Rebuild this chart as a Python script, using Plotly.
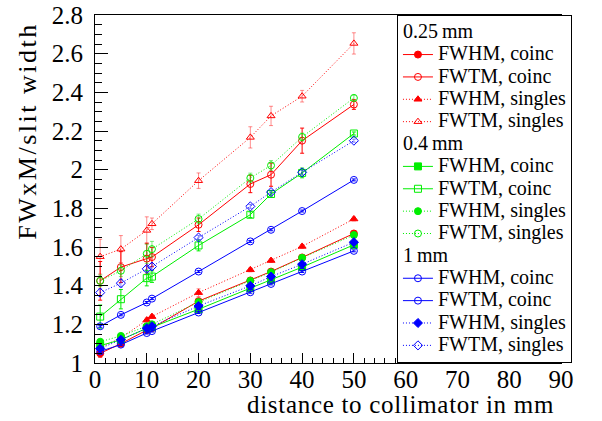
import plotly.graph_objects as go

# ---------------- data ----------------
distance = [1, 5, 10, 11, 20, 30, 34, 40, 50]

# 0.25 mm slit (red)
r_fwhm_coinc = [1.05, 1.10, 1.17, 1.18, 1.32, 1.427, 1.473, 1.546, 1.670]
r_fwhm_coinc_err = [0.02, 0.015, 0.01, 0.01, 0.008, 0.008, 0.008, 0.008, 0.008]
r_fwtm_coinc = [1.425, 1.496, 1.54, 1.548, 1.715, 1.926, 1.974, 2.15, 2.337]
r_fwtm_coinc_err = [0.10, 0.08, 0.08, 0.05, 0.035, 0.045, 0.06, 0.065, 0.025]
r_fwhm_singles = [1.08, 1.13, 1.222, 1.24, 1.364, 1.482, 1.53, 1.603, 1.745]
r_fwhm_singles_err = [0.02, 0.015, 0.01, 0.01, 0.02, 0.01, 0.01, 0.01, 0.01]
r_fwtm_singles = [1.55, 1.589, 1.686, 1.72, 1.943, 2.167, 2.278, 2.38, 2.653]
r_fwtm_singles_err = [0.09, 0.07, 0.07, 0.03, 0.04, 0.055, 0.05, 0.03, 0.055]

# 0.4 mm slit (green)
g_fwhm_coinc = [1.09, 1.12, 1.18, 1.185, 1.278, 1.387, 1.43, 1.496, 1.611]
g_fwhm_coinc_err = [0.01, 0.01, 0.008, 0.008, 0.006, 0.006, 0.006, 0.006, 0.006]
g_fwtm_coinc = [1.24, 1.33, 1.439, 1.447, 1.608, 1.767, 1.874, 1.983, 2.187]
g_fwtm_coinc_err = [0.06, 0.05, 0.04, 0.03, 0.028, 0.015, 0.01, 0.025, 0.008]
g_fwhm_singles = [1.11, 1.14, 1.19, 1.20, 1.315, 1.425, 1.47, 1.544, 1.662]
g_fwhm_singles_err = [0.01, 0.01, 0.008, 0.008, 0.006, 0.006, 0.006, 0.006, 0.006]
g_fwtm_singles = [1.425, 1.477, 1.565, 1.589, 1.745, 1.957, 2.022, 2.169, 2.371]
g_fwtm_singles_err = [0.03, 0.03, 0.05, 0.04, 0.025, 0.025, 0.025, 0.02, 0.015]

# 1 mm slit (blue)
b_fwhm_coinc = [1.06, 1.095, 1.155, 1.165, 1.261, 1.366, 1.409, 1.473, 1.58]
b_fwhm_coinc_err = [0.005] * 9
b_fwtm_coinc = [1.19, 1.249, 1.313, 1.333, 1.473, 1.629, 1.689, 1.786, 1.947]
b_fwtm_coinc_err = [0.005] * 9
b_fwhm_singles = [1.075, 1.12, 1.18, 1.19, 1.295, 1.399, 1.447, 1.511, 1.625]
b_fwhm_singles_err = [0.01, 0.01, 0.008, 0.008, 0.008, 0.008, 0.008, 0.008, 0.008]
b_fwtm_singles = [1.364, 1.413, 1.487, 1.499, 1.649, 1.81, 1.884, 1.986, 2.15]
b_fwtm_singles_err = [0.02, 0.02, 0.015, 0.015, 0.01, 0.01, 0.01, 0.01, 0.008]

x_ticks = [0, 10, 20, 30, 40, 50, 60, 70, 80, 90]
y_ticks = [1, 1.2, 1.4, 1.6, 1.8, 2, 2.2, 2.4, 2.6, 2.8]

# ---------------- styling ----------------
RED, GREEN, BLUE = "#ff0000", "#00ee00", "#0000ff"
RED_L, GREEN_L, BLUE_L = "rgba(255,0,0,0.45)", "rgba(0,220,0,0.5)", "rgba(0,0,255,0.45)"
FONT = "Liberation Serif, Times New Roman, serif"
DOT = "1px,2px"
LEG_ROW = 14.9

series = [
    # group, group title, name, y, err, color, errcolor, dash, symbol
    ("g025", "0.25\u2009mm", "FWHM, coinc", r_fwhm_coinc, r_fwhm_coinc_err, RED, RED, "solid", "circle"),
    ("g025", "0.25\u2009mm", "FWTM, coinc", r_fwtm_coinc, r_fwtm_coinc_err, RED, RED, "solid", "circle-open"),
    ("g025", "0.25\u2009mm", "FWHM, singles", r_fwhm_singles, r_fwhm_singles_err, RED, RED_L, DOT, "triangle-up"),
    ("g025", "0.25\u2009mm", "FWTM, singles", r_fwtm_singles, r_fwtm_singles_err, RED, RED_L, DOT, "triangle-up-open"),
    ("g04", "0.4\u2009mm", "FWHM, coinc", g_fwhm_coinc, g_fwhm_coinc_err, GREEN, GREEN, "solid", "square"),
    ("g04", "0.4\u2009mm", "FWTM, coinc", g_fwtm_coinc, g_fwtm_coinc_err, GREEN, GREEN, "solid", "square-open"),
    ("g04", "0.4\u2009mm", "FWHM, singles", g_fwhm_singles, g_fwhm_singles_err, GREEN, GREEN_L, DOT, "circle"),
    ("g04", "0.4\u2009mm", "FWTM, singles", g_fwtm_singles, g_fwtm_singles_err, GREEN, GREEN_L, DOT, "circle-open"),
    ("g1", "1\u2009mm", "FWHM, coinc", b_fwhm_coinc, b_fwhm_coinc_err, BLUE, BLUE, "solid", "circle-open"),
    ("g1", "1\u2009mm", "FWTM, coinc", b_fwtm_coinc, b_fwtm_coinc_err, BLUE, BLUE, "solid", "circle-open"),
    ("g1", "1\u2009mm", "FWHM, singles", b_fwhm_singles, b_fwhm_singles_err, BLUE, BLUE_L, DOT, "diamond"),
    ("g1", "1\u2009mm", "FWTM, singles", b_fwtm_singles, b_fwtm_singles_err, BLUE, BLUE_L, DOT, "diamond-open"),
]

fig = go.Figure()
for grp, gtitle, name, yv, ev, col, ecol, dash, sym in series:
    fig.add_trace(go.Scatter(
        x=distance, y=yv,
        mode="lines+markers",
        name="<span style='font-size:20px'>" + name + "</span>",
        legendgroup=grp,
        legendgrouptitle=dict(text="<span style='font-size:20px'>" + gtitle + "</span>",
                              font=dict(family=FONT, size=LEG_ROW, color="black")),
        line=dict(color=col, width=1, dash=dash),
        marker=dict(symbol=sym, size=7, color=col, line=dict(color=col, width=1)),
        error_y=dict(type="data", array=ev, visible=True, color=ecol, thickness=1, width=2),
    ))

# plot frame at x 95..561, y 15..363 of the 602x421 page
fig.update_layout(
    width=602, height=421,
    margin=dict(l=95, r=41, t=15, b=58, autoexpand=False),
    plot_bgcolor="white", paper_bgcolor="white",
    font=dict(family=FONT, color="black"),
    showlegend=True,
    legend=dict(
        x=0.648, y=1, xanchor="left", yanchor="top",
        bgcolor="white", bordercolor="black", borderwidth=1,
        font=dict(family=FONT, size=LEG_ROW, color="black"),
        tracegroupgap=0, traceorder="grouped",
    ),
    xaxis=dict(
        range=[0, 90], tickvals=x_ticks, ticks="inside", ticklen=10, tickcolor="black",
        showline=True, linecolor="black", linewidth=1, mirror=True,
        showgrid=False, zeroline=False, automargin=False,
        tickfont=dict(family=FONT, size=25, color="black"), ticklabelstandoff=-6,
        ticklabeloverflow="allow",
        minor=dict(dtick=2, ticks="inside", ticklen=5, tickcolor="black", showgrid=False),
    ),
    yaxis=dict(
        range=[1, 2.8], tickvals=y_ticks, ticks="inside", ticklen=13, tickcolor="black",
        showline=True, linecolor="black", linewidth=1, mirror=True,
        showgrid=False, zeroline=False, automargin=False,
        tickfont=dict(family=FONT, size=25, color="black"), ticklabelstandoff=6,
        ticklabeloverflow="allow",
        minor=dict(dtick=0.05, ticks="inside", ticklen=7, tickcolor="black", showgrid=False),
    ),
    annotations=[
        dict(text="<span style='letter-spacing:0.7px'>distance to collimator in mm</span>",
             xref="paper", yref="paper",
             x=0.9896, y=-0.0744, xanchor="right", yanchor="top", showarrow=False,
             font=dict(family=FONT, size=25, color="black")),
        dict(text="<span style='letter-spacing:2.5px'>FWxM/slit width</span>",
             xref="paper", yref="paper",
             x=-0.1438, y=0.985, xanchor="center", yanchor="top", textangle=-90, showarrow=False,
             font=dict(family=FONT, size=26, color="black")),
    ],
)

# remove the browser's default 8px body margin so the figure fills the window
fig.write_html("out.html", config={"displayModeBar": False},
               post_script="document.body.style.margin='0px';")
